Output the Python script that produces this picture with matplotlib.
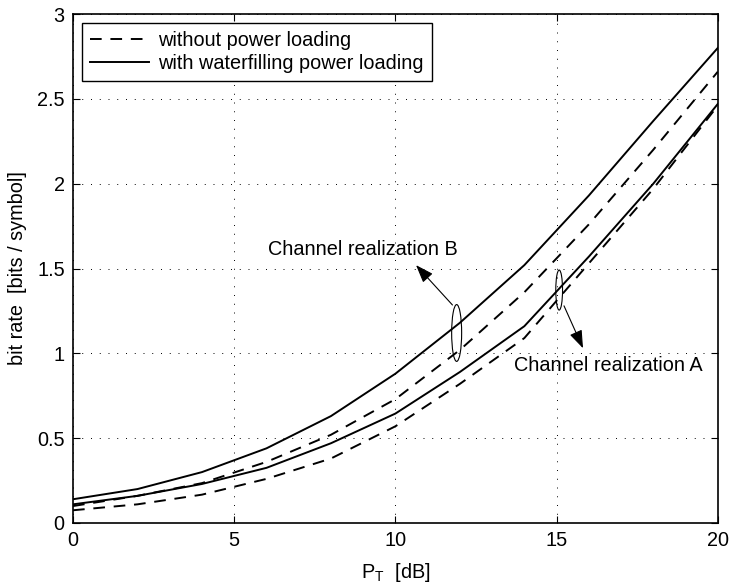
import matplotlib
matplotlib.use('Agg')
import matplotlib.pyplot as plt
from matplotlib.patches import Ellipse

plt.rcParams['font.family'] = ['Liberation Sans', 'DejaVu Sans']
plt.rcParams['mathtext.fontset'] = 'custom'
plt.rcParams['mathtext.rm'] = 'Liberation Sans'
plt.rcParams['mathtext.it'] = 'Liberation Sans'

# transmit power in dB
pt = [0, 2, 4, 6, 8, 10, 12, 14, 16, 18, 20]

# bit rates for the two channel realizations
rateB_wf = [0.14, 0.20, 0.30, 0.44, 0.63, 0.88, 1.18, 1.52, 1.93, 2.37, 2.80]
rateB_no = [0.10, 0.16, 0.235, 0.36, 0.52, 0.73, 1.02, 1.36, 1.76, 2.20, 2.66]
rateA_wf = [0.11, 0.16, 0.23, 0.325, 0.47, 0.645, 0.89, 1.16, 1.57, 2.00, 2.47]
rateA_no = [0.075, 0.11, 0.167, 0.26, 0.38, 0.57, 0.82, 1.09, 1.53, 1.97, 2.46]

fs = 14.3

fig = plt.figure(figsize=(7.31, 5.85), dpi=100)
ax = fig.add_axes([0.0999, 0.106, 0.882, 0.870])

dash = (0, (6, 4.5))
ax.plot(pt, rateB_no, color='k', lw=1.4, linestyle=dash, label='without power loading')
ax.plot(pt, rateB_wf, color='k', lw=1.4, label='with waterfilling power loading')
ax.plot(pt, rateA_no, color='k', lw=1.4, linestyle=dash)
ax.plot(pt, rateA_wf, color='k', lw=1.4)

ax.set_xlim(0, 20)
ax.set_ylim(0, 3)
ax.set_xticks([0, 5, 10, 15, 20])
ax.set_yticks([0, 0.5, 1, 1.5, 2, 2.5, 3])
ax.set_yticklabels(['0', '0.5', '1', '1.5', '2', '2.5', '3'])
ax.grid(True, linestyle=(0, (1, 8)), color='k', lw=0.7)
ax.tick_params(direction='in', top=True, right=True, labelsize=fs, length=5, pad=6)
for s in ax.spines.values():
    s.set_linewidth(1.2)

ax.set_xlabel(r'P$_\mathregular{T}$  [dB]', fontsize=fs, labelpad=8)
ax.set_ylabel('bit rate  [bits / symbol]', fontsize=fs, labelpad=7)

leg = ax.legend(loc='upper left', fontsize=fs, handlelength=3.0, handletextpad=0.45,
                borderaxespad=0.45, labelspacing=0.2, fancybox=False, framealpha=1,
                edgecolor='k', borderpad=0.4)
leg.get_frame().set_linewidth(1.0)

# ellipses grouping the curve pairs
ax.add_patch(Ellipse((11.9, 1.12), 0.31, 0.335, fill=False, lw=0.8, ec='k'))
ax.add_patch(Ellipse((15.08, 1.373), 0.21, 0.236, fill=False, lw=0.8, ec='k'))

head = '-|>,head_length=1.1,head_width=0.4'
ax.annotate('', xy=(10.64, 1.52), xytext=(11.77, 1.285),
            arrowprops=dict(arrowstyle=head, color='k', lw=0.8, shrinkA=0, shrinkB=0))
ax.annotate('', xy=(15.82, 1.03), xytext=(15.23, 1.28),
            arrowprops=dict(arrowstyle=head, color='k', lw=0.8, shrinkA=0, shrinkB=0))

ax.text(8.99, 1.61, 'Channel realization B', fontsize=fs, ha='center', va='center')
ax.text(16.6, 0.93, 'Channel realization A', fontsize=fs, ha='center', va='center')

fig.savefig('out.png', dpi=100)
